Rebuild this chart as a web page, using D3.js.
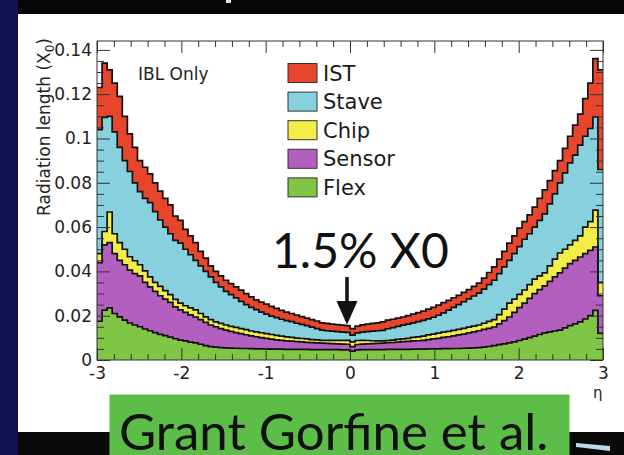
<!DOCTYPE html>
<html>
<head>
<meta charset="utf-8">
<script src="https://cdn.jsdelivr.net/npm/d3@7"></script>
<style>
  html, body { margin: 0; padding: 0; background: #121150; overflow: hidden; }
  svg { display: block; }
</style>
</head>
<body>
<svg id="chart" width="624" height="455"></svg>
<script>
// IBL material budget: radiation length per component versus pseudorapidity
// 100 bins of width 0.06 from eta = -3 to 3; values in units of X0.

const etaMin = -3, etaMax = 3, nBins = 100;

const flexValues = [
  .0175,.0225,.0235,.0210,.0195,.0180,.0167,.0158,.0150,.0140,
  .0132,.0124,.0116,.0110,.0103,.0096,.0090,.0086,.0081,.0077,
  .0071,.0065,.0060,.0058,.0056,.0055,.0054,.0053,.0052,.0052,
  .0051,.0050,.0050,.0050,.0049,.0049,.0049,.0048,.0048,.0048,
  .0048,.0048,.0047,.0047,.0047,.0047,.0047,.0047,.0046,.0046,
  .0040,.0046,.0047,.0047,.0047,.0047,.0047,.0048,.0048,.0048,
  .0048,.0048,.0049,.0049,.0049,.0050,.0050,.0050,.0051,.0051,
  .0052,.0052,.0053,.0054,.0055,.0056,.0058,.0061,.0065,.0069,
  .0073,.0077,.0082,.0088,.0094,.0101,.0108,.0115,.0122,.0127,
  .0131,.0135,.0145,.0155,.0163,.0172,.0185,.0200,.0224,.0120
];

const sensorValues = [
  .0265,.0295,.0295,.0270,.0255,.0250,.0239,.0232,.0230,.0210,
  .0198,.0186,.0174,.0165,.0157,.0144,.0136,.0129,.0123,.0117,
  .0111,.0105,.0098,.0092,.0086,.0080,.0075,.0071,.0067,.0062,
  .0058,.0055,.0051,.0048,.0045,.0042,.0040,.0038,.0037,.0035,
  .0034,.0032,.0031,.0030,.0029,.0028,.0027,.0026,.0026,.0025,
  .0020,.0024,.0025,.0026,.0027,.0028,.0029,.0030,.0031,.0033,
  .0035,.0036,.0037,.0038,.0040,.0042,.0045,.0048,.0051,.0054,
  .0057,.0061,.0064,.0068,.0072,.0076,.0080,.0082,.0084,.0094,
  .0105,.0117,.0133,.0148,.0163,.0177,.0192,.0203,.0213,.0228,
  .0244,.0258,.0270,.0280,.0287,.0293,.0295,.0295,.0286,.0170
];

const chipValues = [
  .0040,.0060,.0138,.0090,.0080,.0070,.0060,.0058,.0050,.0052,
  .0045,.0040,.0042,.0038,.0035,.0034,.0031,.0030,.0031,.0032,
  .0028,.0025,.0024,.0022,.0023,.0023,.0023,.0023,.0023,.0023,
  .0022,.0022,.0022,.0021,.0021,.0020,.0019,.0018,.0017,.0016,
  .0015,.0015,.0014,.0014,.0013,.0014,.0015,.0016,.0017,.0018,
  .0022,.0018,.0017,.0015,.0013,.0011,.0010,.0010,.0011,.0012,
  .0012,.0014,.0016,.0017,.0019,.0021,.0022,.0023,.0024,.0024,
  .0025,.0025,.0026,.0026,.0026,.0026,.0028,.0031,.0033,.0042,
  .0052,.0063,.0060,.0060,.0059,.0062,.0065,.0062,.0058,.0070,
  .0080,.0090,.0085,.0085,.0090,.0095,.0120,.0130,.0167,.0060
];

const staveValues = [
  .0560,.0515,.0432,.0460,.0430,.0400,.0385,.0352,.0330,.0328,
  .0335,.0320,.0300,.0287,.0275,.0266,.0271,.0255,.0240,.0224,
  .0215,.0205,.0193,.0178,.0165,.0152,.0143,.0133,.0123,.0113,
  .0107,.0100,.0093,.0088,.0083,.0080,.0076,.0074,.0071,.0067,
  .0064,.0060,.0056,.0051,.0046,.0043,.0041,.0039,.0037,.0036,
  .0030,.0034,.0037,.0040,.0043,.0046,.0048,.0053,.0056,.0059,
  .0062,.0064,.0066,.0069,.0071,.0073,.0076,.0081,.0087,.0096,
  .0104,.0112,.0120,.0128,.0136,.0144,.0154,.0166,.0178,.0185,
  .0190,.0193,.0205,.0216,.0229,.0230,.0235,.0250,.0267,.0280,
  .0295,.0317,.0345,.0370,.0385,.0410,.0410,.0420,.0420,.0510
];

const istValues = [
  .0190,.0245,.0210,.0220,.0230,.0200,.0170,.0160,.0140,.0140,
  .0130,.0130,.0130,.0130,.0130,.0110,.0102,.0090,.0085,.0080,
  .0065,.0060,.0050,.0050,.0050,.0050,.0050,.0050,.0050,.0050,
  .0047,.0044,.0045,.0045,.0044,.0042,.0040,.0038,.0037,.0037,
  .0035,.0034,.0034,.0034,.0033,.0033,.0032,.0032,.0031,.0030,
  .0030,.0031,.0033,.0034,.0035,.0036,.0038,.0039,.0038,.0037,
  .0037,.0038,.0039,.0041,.0042,.0044,.0045,.0046,.0046,.0044,
  .0043,.0042,.0042,.0042,.0043,.0045,.0050,.0055,.0060,.0065,
  .0070,.0078,.0080,.0083,.0080,.0085,.0090,.0100,.0108,.0105,
  .0105,.0100,.0110,.0120,.0135,.0140,.0170,.0205,.0263,.0450
];

// stacking order, bottom to top
const layerNames = ['Flex', 'Sensor', 'Chip', 'Stave', 'IST'];
const layerValues = { Flex: flexValues, Sensor: sensorValues, Chip: chipValues, Stave: staveValues, IST: istValues };
const legendNames = ['IST', 'Stave', 'Chip', 'Sensor', 'Flex'];
const layerColors = { IST: '#e8462c', Stave: '#86d1dd', Chip: '#f3ed4a', Sensor: '#b35fbf', Flex: '#80c546' };

const yTickValues = [0, 0.02, 0.04, 0.06, 0.08, 0.10, 0.12, 0.14];
const yTickLabels = ['0', '0.02', '0.04', '0.06', '0.08', '0.1', '0.12', '0.14'];
const xTickValues = [-3, -2, -1, 0, 1, 2, 3];
const xTickLabels = ['-3', '-2', '-1', '0', '1', '2', '3'];

const rootFont = '"DejaVu Sans", sans-serif';
const slideFont = 'Lato, "Open Sans", sans-serif';

const svg = d3.select('#chart');

// slide background: navy margin, dark bands, white figure panel
svg.append('rect').attr('width', 624).attr('height', 455).attr('fill', '#121150');
svg.append('rect').attr('x', 18).attr('y', 0).attr('width', 606).attr('height', 14).attr('fill', '#060608');
svg.append('rect').attr('x', 226).attr('y', 0).attr('width', 5).attr('height', 3).attr('fill', '#e8e8e8');
svg.append('rect').attr('x', 18).attr('y', 432).attr('width', 606).attr('height', 23).attr('fill', '#0a0a0a');
svg.append('rect').attr('x', 18).attr('y', 14).attr('width', 606).attr('height', 418).attr('fill', '#ffffff');

const x = d3.scaleLinear().domain([etaMin, etaMax]).range([97, 603]);
const y = d3.scaleLinear().domain([0, 0.144]).range([360, 41]);

const binWidth = (etaMax - etaMin) / nBins;
const rows = d3.range(nBins).map(i => {
  const r = { lo: etaMin + i * binWidth, hi: etaMin + (i + 1) * binWidth };
  layerNames.forEach(k => { r[k] = layerValues[k][i]; });
  return r;
});
const stacked = d3.stack().keys(layerNames)(rows);

// two points per bin so that areas and outlines are drawn as histogram steps
const stepPoints = s => s.flatMap(d => [
  { e: d.data.lo, y0: d[0], y1: d[1] },
  { e: d.data.hi, y0: d[0], y1: d[1] }
]);

svg.append('clipPath').attr('id', 'frameClip')
  .append('rect').attr('x', 97).attr('y', 41).attr('width', 506).attr('height', 319);

const plot = svg.append('g').attr('clip-path', 'url(#frameClip)');

const area = d3.area().x(p => x(p.e)).y0(p => y(p.y0)).y1(p => y(p.y1));
const topLine = d3.line().x(p => x(p.e)).y(p => y(p.y1));

plot.selectAll('path.band')
  .data(stacked)
  .join('path')
  .attr('class', 'band')
  .attr('fill', s => layerColors[s.key])
  .attr('d', s => area(stepPoints(s)));

plot.selectAll('path.edge')
  .data(stacked)
  .join('path')
  .attr('class', 'edge')
  .attr('fill', 'none')
  .attr('stroke', '#111')
  .attr('stroke-width', 1.7)
  .attr('stroke-linejoin', 'miter')
  .attr('d', s => topLine(stepPoints(s)));

// axes with inward ticks on all four sides
const axisColor = '#333';
const yMinor = d3.range(0, 0.1441, 0.005).filter(v => Math.abs(v / 0.02 - Math.round(v / 0.02)) > 1e-6);
const xMinor = d3.range(-3, 3.0001, 0.2).filter(v => Math.abs(v - Math.round(v)) > 1e-6);

function styleAxis(g) {
  g.select('.domain').remove();
  g.selectAll('line').attr('stroke', axisColor).attr('stroke-width', 1);
  g.selectAll('text').attr('fill', '#222').style('font-family', rootFont).style('font-size', '17px');
}

svg.append('g').attr('transform', 'translate(97,0)')
  .call(d3.axisLeft(y).tickValues(yTickValues).tickSize(-13).tickPadding(5)
    .tickFormat((d, i) => yTickLabels[i]))
  .call(styleAxis);
svg.append('g').attr('transform', 'translate(97,0)')
  .call(d3.axisLeft(y).tickValues(yMinor).tickSize(-7).tickFormat(''))
  .call(styleAxis);
svg.append('g').attr('transform', 'translate(603,0)')
  .call(d3.axisRight(y).tickValues(yTickValues).tickSize(-13).tickFormat(''))
  .call(styleAxis);
svg.append('g').attr('transform', 'translate(603,0)')
  .call(d3.axisRight(y).tickValues(yMinor).tickSize(-7).tickFormat(''))
  .call(styleAxis);

svg.append('g').attr('transform', 'translate(0,360)')
  .call(d3.axisBottom(x).tickValues(xTickValues).tickSize(-12).tickPadding(7)
    .tickFormat((d, i) => xTickLabels[i]))
  .call(styleAxis);
svg.append('g').attr('transform', 'translate(0,360)')
  .call(d3.axisBottom(x).tickValues(xMinor).tickSize(-6).tickFormat(''))
  .call(styleAxis);
svg.append('g').attr('transform', 'translate(0,41)')
  .call(d3.axisTop(x).tickValues(xTickValues).tickSize(-12).tickFormat(''))
  .call(styleAxis);
svg.append('g').attr('transform', 'translate(0,41)')
  .call(d3.axisTop(x).tickValues(xMinor).tickSize(-6).tickFormat(''))
  .call(styleAxis);

svg.append('rect')
  .attr('x', 97).attr('y', 41).attr('width', 506).attr('height', 319)
  .attr('fill', 'none').attr('stroke', axisColor).attr('stroke-width', 1);

// axis titles
const yTitle = svg.append('text')
  .attr('transform', 'translate(50,38) rotate(-90)')
  .attr('text-anchor', 'end')
  .attr('fill', '#222')
  .style('font-family', rootFont).style('font-size', '17px');
yTitle.append('tspan').text('Radiation length (X');
yTitle.append('tspan').attr('dy', 4).style('font-size', '12px').text('0');
yTitle.append('tspan').attr('dy', -4).text(')');

svg.append('text')
  .attr('x', 593).attr('y', 398)
  .attr('fill', '#222')
  .style('font-family', rootFont).style('font-size', '15px')
  .text('η');

svg.append('text')
  .attr('x', 138).attr('y', 80)
  .attr('fill', '#222')
  .style('font-family', rootFont).style('font-size', '17px')
  .text('IBL Only');

// legend
const legend = svg.append('g');
legendNames.forEach((name, i) => {
  const cy = 73 + i * 28.6;
  legend.append('rect')
    .attr('x', 288).attr('y', cy - 9.5).attr('width', 29).attr('height', 19)
    .attr('fill', layerColors[name]).attr('stroke', '#333').attr('stroke-width', 1);
  legend.append('text')
    .attr('x', 323).attr('y', cy + 7.5)
    .attr('fill', '#1a1a1a')
    .style('font-family', rootFont).style('font-size', '21px')
    .text(name);
});

// annotation of the central value
const centreTotal = layerNames.reduce((s, k) => s + layerValues[k][nBins / 2 - 1], 0);
svg.append('text')
  .attr('x', 272).attr('y', 268)
  .attr('fill', '#111')
  .style('font-family', slideFont).style('font-size', '48px')
  .text('1.5% X0');
const ax = x(0) - 3;
svg.append('line')
  .attr('x1', ax).attr('x2', ax).attr('y1', 277).attr('y2', 305)
  .attr('stroke', '#111').attr('stroke-width', 3.5);
svg.append('path')
  .attr('d', `M${ax - 10.5},301 L${ax + 10.5},301 L${ax},${y(centreTotal) - 1} Z`)
  .attr('fill', '#111');

// credit box
svg.append('rect')
  .attr('x', 109.5).attr('y', 394.5).attr('width', 460).attr('height', 61)
  .attr('fill', '#5cbd48');
svg.append('text')
  .attr('x', 119).attr('y', 450)
  .attr('fill', '#111')
  .style('font-family', slideFont).style('font-size', '51px')
  .text('Grant Gorfine et al.');

// small slide ornament at the lower right
svg.append('path')
  .attr('d', 'M576,443 L610,446 L610,451 L585,448 L576,447 Z')
  .attr('fill', '#b9dcea');
</script>
</body>
</html>
